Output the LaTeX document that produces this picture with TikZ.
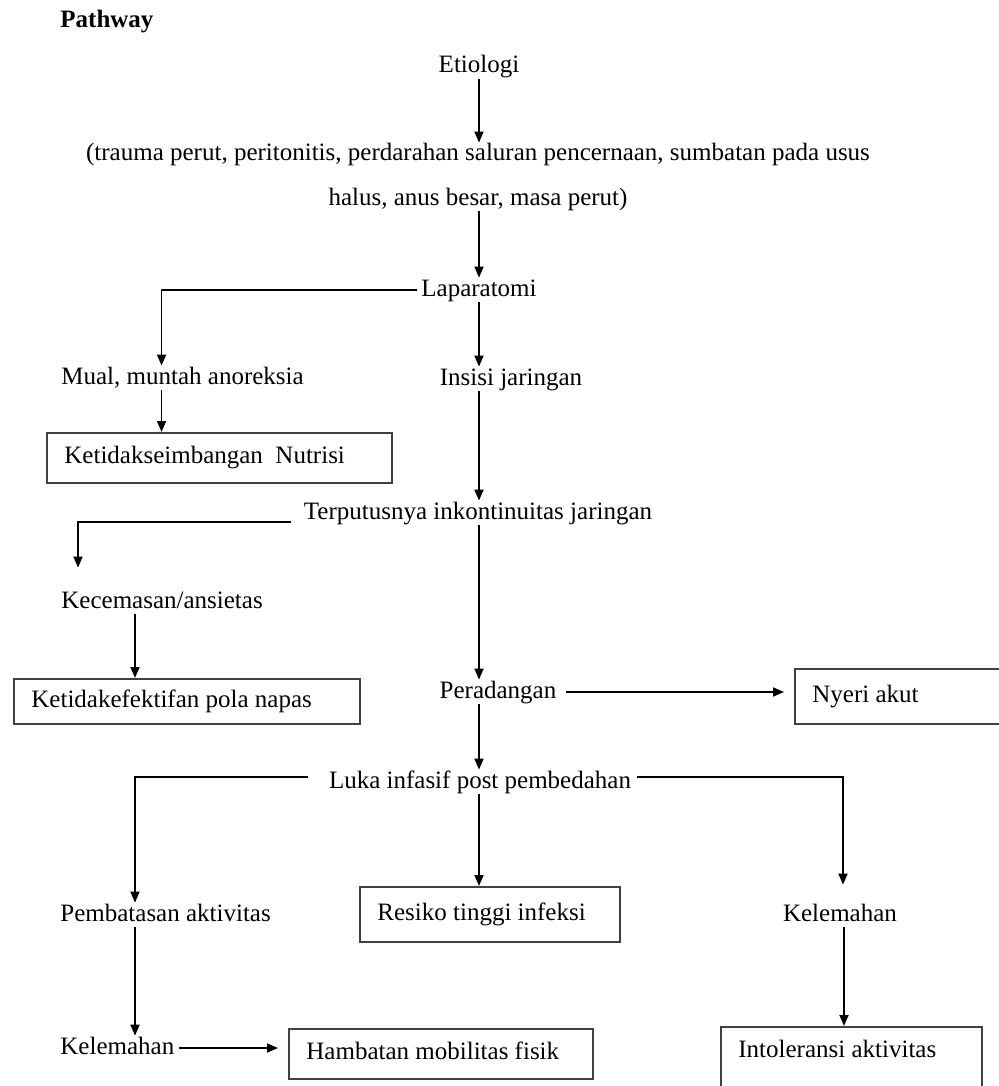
\documentclass[tikz,border=0pt]{standalone}
\usepackage{fontspec}
\setmainfont{Liberation Serif}
\usetikzlibrary{arrows.meta}

\begin{document}
\begin{tikzpicture}[x=0.5pt,y=-0.5pt,
  txt/.style={font=\fontsize{12.5pt}{15pt}\selectfont, inner sep=0pt, text height=9pt, text depth=3pt},
  kotak/.style={txt, draw=black!75, line width=0.9pt, anchor=north west, align=flush left, inner xsep=8.75pt, inner ysep=0pt},
  panah/.style={line width=0.9pt, -{Triangle[length=5.5pt,width=4.5pt]}}]
\useasboundingbox (0,0) rectangle (999,1086);
\node[txt, anchor=west, font=\bfseries\fontsize{12.5pt}{15pt}\selectfont] (judul) at (60,22) {Pathway};
\node[txt] (etio) at (479,67) {Etiologi};
\node[txt] (sebab1) at (478,155) {(trauma perut, peritonitis, perdarahan saluran pencernaan, sumbatan pada usus};
\node[txt] (sebab2) at (478,199) {halus, anus besar, masa perut)};
\node[txt] (lapa) at (479,290) {Laparatomi};
\node[txt, anchor=west] (mual) at (61,378) {Mual, muntah anoreksia};
\node[txt] (insisi) at (511,379) {Insisi jaringan};
\node[kotak, text width=155pt, minimum height=25pt] (nutrisi) at (46,432) {Ketidakseimbangan\ \ Nutrisi};
\node[txt] (putus) at (478,513) {Terputusnya inkontinuitas jaringan};
\node[txt, anchor=west] (cemas) at (61,602) {Kecemasan/ansietas};
\node[kotak, text width=155.5pt, minimum height=22.5pt] (napas) at (13,678) {Ketidakefektifan pola napas};
\node[txt] (radang) at (498,692) {Peradangan};
\node[kotak, text width=87pt, minimum height=27.5pt] (nyeri) at (794,668) {Nyeri akut};
\node[txt] (luka) at (480,782) {Luka infasif post pembedahan};
\node[txt, anchor=west] (batas) at (60,915) {Pembatasan aktivitas};
\node[kotak, text width=112.5pt, minimum height=27.5pt] (infeksi) at (359,886) {Resiko tinggi infeksi};
\node[txt] (lemah2) at (840,915) {Kelemahan};
\node[txt, anchor=west] (lemah1) at (60,1048) {Kelemahan};
\node[kotak, text width=134.5pt, minimum height=25pt] (mobil) at (288,1028) {Hambatan mobilitas fisik};
\node[kotak, text width=113pt, text depth=11pt, inner ysep=6.5pt] (intol) at (720,1026) {Intoleransi aktivitas};
% panah
\draw[panah] (etio.south) -- (etio.south |- sebab1.north);
\draw[panah] (lapa.north |- sebab2.south) -- (lapa.north);
\draw[panah, shorten <=2pt] (lapa.west) -| ([xshift=-10.5pt]mual.north);
\draw[panah] (lapa.south) -- (lapa.south |- insisi.north);
\draw[panah] ([xshift=-10.5pt]mual.south) -- ([xshift=-10.5pt]mual.south |- nutrisi.north);
\draw[panah] (lapa |- insisi.south) -- (lapa |- putus.north);
\draw[panah, shorten <=6.5pt, shorten >=11pt] ([yshift=-4.5pt]putus.west) -| ([xshift=8.5pt]cemas.north west);
\draw[panah] ([xshift=37pt]cemas.south west) -- ([xshift=37pt]cemas.south west |- napas.north);
\draw[panah] (lapa |- putus.south) -- (lapa |- radang.north);
\draw[panah, shorten <=4.5pt, shorten >=5pt] (radang.east) -- (radang.east -| nyeri.west);
\draw[panah] (lapa |- radang.south) -- (lapa |- luka.north);
\draw[panah, shorten <=10.5pt] ([yshift=2.5pt]luka.west) -| ([xshift=37.5pt]batas.north west);
\draw[panah, shorten <=3pt, shorten >=9pt] ([yshift=2.5pt]luka.east) -| ([xshift=1.5pt]lemah2.north);
\draw[panah] (lapa |- luka.south) -- (lapa |- infeksi.north);
\draw[panah] ([xshift=37.5pt]batas.south west) -- ([xshift=37.5pt]batas.south west |- lemah1.north);
\draw[panah, shorten <=2pt, shorten >=5pt] (lemah1.east) -- (lemah1.east -| mobil.west);
\draw[panah] ([xshift=2pt]lemah2.south) -- ([xshift=2pt]lemah2.south |- intol.north);
\end{tikzpicture}
\end{document}
